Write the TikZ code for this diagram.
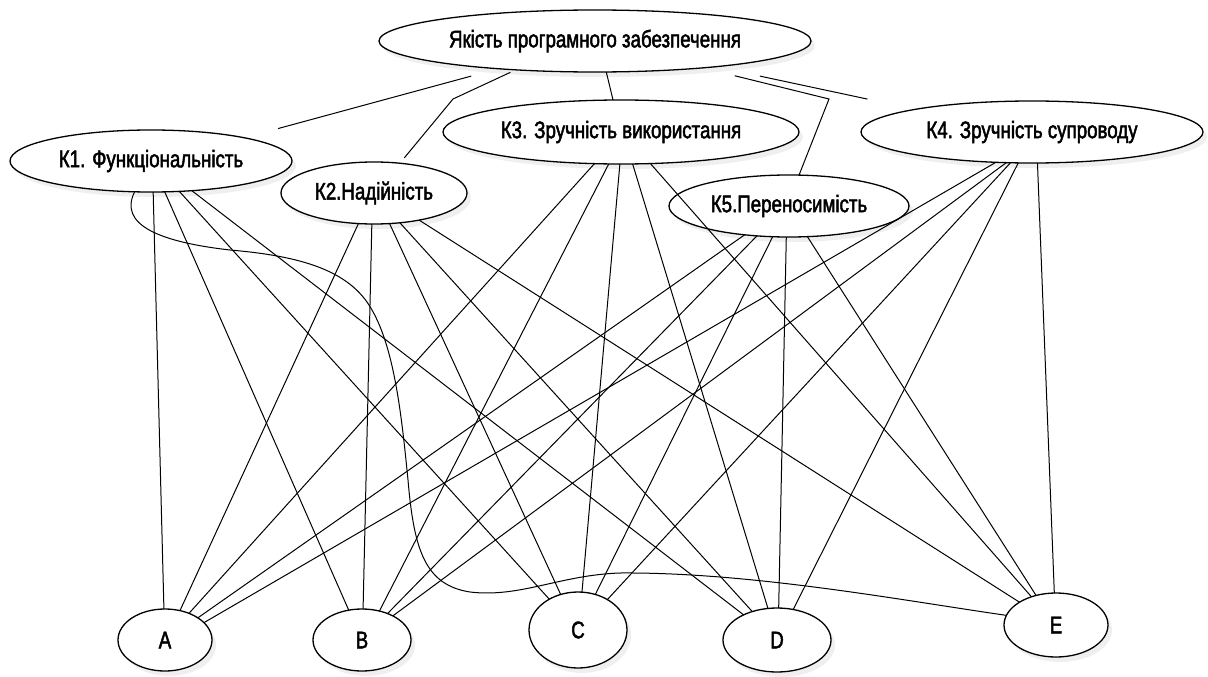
\documentclass[tikz,border=0pt]{standalone}
\usepackage{fontspec}
\setmainfont{Liberation Sans}[FakeStretch=0.78,FakeBold=2]
\usetikzlibrary{shapes.geometric,shadows}
\begin{document}
\begin{tikzpicture}[x=1pt,y=-1pt,
  ell/.style={ellipse,draw=black,line width=1.3pt,fill=white,inner sep=0pt,outer sep=0pt,
    font=\fontsize{24}{28}\selectfont,
    drop shadow={shadow xshift=4pt,shadow yshift=-5pt,opacity=0.12}},
  conn/.style={line width=1pt,black}]
\useasboundingbox (0,0) rectangle (1208,677);
\fill[white] (0,0) rectangle (1208,677);

% nodes
\node[ell,minimum width=432pt,minimum height=62pt] (Q) at (595,41) {Якість програмного забезпечення};
\node[ell,minimum width=282pt,minimum height=62pt] (K1) at (151,161) {К1. Функціональність};
\node[ell,minimum width=186pt,minimum height=62pt] (K2) at (374,193) {К2.Надійність};
\node[ell,minimum width=356pt,minimum height=64pt] (K3) at (621,132) {К3. Зручність використання};
\node[ell,minimum width=342pt,minimum height=62pt] (K4) at (1032,132) {К4. Зручність супроводу};
\node[ell,minimum width=240pt,minimum height=62pt] (K5) at (789,206) {К5.Переносимість};
\node[ell,minimum width=94pt,minimum height=62pt] (A) at (165,640) {A};
\node[ell,minimum width=98pt,minimum height=62pt] (B) at (362,640) {B};
\node[ell,minimum width=98pt,minimum height=76pt] (C) at (578,630) {C};
\node[ell,minimum width=108pt,minimum height=64pt] (D) at (777,640) {D};
\node[ell,minimum width=104pt,minimum height=64pt] (E) at (1056,625) {E};

\coordinate (b2) at (453,99);
\coordinate (b5) at (829,99);

% top connectors
\draw[conn,shorten <=28pt,shorten >=35pt] (Q.-164.4) -- (K1.14.6);
\draw[conn,shorten <=6pt,shorten >=7pt] (Q.-160.5) -- (b2) -- (K2.49);
\draw[conn] (Q.-70.5) -- (K3.104);
\draw[conn,shorten <=33pt] (Q.-14.4) -- (b5) -- (K5.72);
\draw[conn,shorten <=45pt,shorten >=49pt] (Q.-12.1) -- (K4.169);

% K1
\draw[conn] (K1.-86) -- (A.92);
\draw[conn] (K1.-66) -- (B.114);
\draw[conn] (K1.-47) -- (C.133);
\draw[conn] (K1.-36.5) -- (D.143);
\draw[conn] (K1.-118) .. controls (118,225) and (160,242) .. (230,250)
  .. controls (300,256) and (350,270) .. (372,310)
  .. controls (395,350) and (402,420) .. (408,480)
  .. controls (414,550) and (425,585) .. (470,592)
  .. controls (520,598) and (560,575) .. (620,573)
  .. controls (750,572) and (900,600) .. (E.169.5);
% K2
\draw[conn] (K2.-117) -- (A.63);
\draw[conn] (K2.-94) -- (B.88);
\draw[conn] (K2.-63) -- (C.116);
\draw[conn] (K2.-49) -- (D.131);
\draw[conn] (K2.-31) -- (E.148);
% K3
\draw[conn] (K3.-130) -- (A.48);
\draw[conn] (K3.-111.5) -- (B.59);
\draw[conn] (K3.-92) -- (C.84);
\draw[conn] (K3.-70) -- (D.106);
\draw[conn] (K3.-47) -- (E.131);
% K4
\draw[conn] (K4.-140.5) -- (A.24);
\draw[conn] (K4.-130) -- (B.38);
\draw[conn] (K4.-125) -- (C.46.5);
\draw[conn] (K4.-114) -- (D.62);
\draw[conn] (K4.-80) -- (E.93);
% K5
\draw[conn] (K5.-147) -- (A.34);
\draw[conn] (K5.-137) -- (B.46);
\draw[conn] (K5.-118) -- (C.64);
\draw[conn] (K5.-95) -- (D.87);
\draw[conn] (K5.-59.5) -- (E.124);
\end{tikzpicture}
\end{document}
